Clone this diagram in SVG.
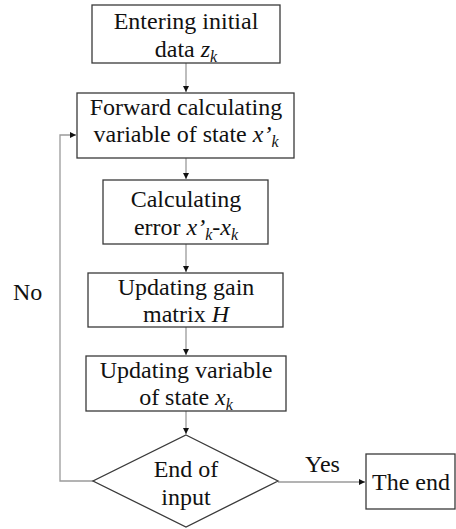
<svg xmlns="http://www.w3.org/2000/svg" width="456" height="529" viewBox="0 0 456 529">
<style>
.box{fill:#fff;stroke:#3a3a3a;stroke-width:1.3}
.c{fill:none;stroke:#9a9a9a;stroke-width:1.3}
</style>
<defs>
<marker id="ah" markerWidth="8" markerHeight="8" refX="6" refY="3" orient="auto" markerUnits="userSpaceOnUse">
<path d="M0,0 L6,3 L0,6 Z" fill="#111"/>
</marker>
</defs>
<g id="connectors">
<path class="c" d="M186,63 V92" marker-end="url(#ah)"/>
<path class="c" d="M186,158 V179" marker-end="url(#ah)"/>
<path class="c" d="M186,244 V272" marker-end="url(#ah)"/>
<path class="c" d="M186,327 V355" marker-end="url(#ah)"/>
<path class="c" d="M186,411 V434" marker-end="url(#ah)"/>
<path class="c" d="M278,482 H365" marker-end="url(#ah)"/>
<path class="c" d="M93,481 H60 V135 H76" marker-end="url(#ah)"/>
<text x="305" y="472" style="font-family:'Liberation Serif','Times New Roman',serif !important;font-size:24px;fill:#111">Yes</text>
<text x="13" y="300" style="font-family:'Liberation Serif','Times New Roman',serif !important;font-size:24px;fill:#111">No</text>
</g>
<g id="n1">
<rect class="box" x="92" y="5" width="188" height="58"/>
<text x="186" y="29" text-anchor="middle" style="font-family:'Liberation Serif','Times New Roman',serif !important;font-size:24px;fill:#111">Entering initial</text>
<text x="186" y="57" text-anchor="middle" style="font-family:'Liberation Serif','Times New Roman',serif !important;font-size:24px;fill:#111">data <tspan font-style="italic">z</tspan><tspan font-style="italic" font-size="16" dy="5">k</tspan></text>
</g>
<g id="n2">
<rect class="box" x="77" y="93" width="217" height="65"/>
<text x="186" y="115" text-anchor="middle" style="font-family:'Liberation Serif','Times New Roman',serif !important;font-size:24px;fill:#111">Forward calculating</text>
<text x="186" y="142" text-anchor="middle" style="font-family:'Liberation Serif','Times New Roman',serif !important;font-size:24px;fill:#111">variable of state <tspan font-style="italic">x&#x2019;</tspan><tspan font-style="italic" font-size="16" dy="5">k</tspan></text>
</g>
<g id="n3">
<rect class="box" x="103" y="180" width="165" height="64"/>
<text x="186" y="207" text-anchor="middle" style="font-family:'Liberation Serif','Times New Roman',serif !important;font-size:24px;fill:#111">Calculating</text>
<text x="186" y="235" text-anchor="middle" style="font-family:'Liberation Serif','Times New Roman',serif !important;font-size:24px;fill:#111">error <tspan font-style="italic">x&#x2019;</tspan><tspan font-style="italic" font-size="16" dy="5">k</tspan><tspan font-style="italic" dy="-5">-x</tspan><tspan font-style="italic" font-size="16" dy="5">k</tspan></text>
</g>
<g id="n4">
<rect class="box" x="88" y="273" width="195" height="54"/>
<text x="186" y="295" text-anchor="middle" style="font-family:'Liberation Serif','Times New Roman',serif !important;font-size:24px;fill:#111">Updating gain</text>
<text x="186" y="322" text-anchor="middle" style="font-family:'Liberation Serif','Times New Roman',serif !important;font-size:24px;fill:#111">matrix <tspan font-style="italic">H</tspan></text>
</g>
<g id="n5">
<rect class="box" x="86" y="356" width="200" height="55"/>
<text x="186" y="378" text-anchor="middle" style="font-family:'Liberation Serif','Times New Roman',serif !important;font-size:24px;fill:#111">Updating variable</text>
<text x="186" y="405" text-anchor="middle" style="font-family:'Liberation Serif','Times New Roman',serif !important;font-size:24px;fill:#111">of state <tspan font-style="italic">x</tspan><tspan font-style="italic" font-size="16" dy="5">k</tspan></text>
</g>
<g id="n6">
<path class="box" d="M186,435 L278,481 L186,527 L93,481 Z"/>
<text x="186" y="477" text-anchor="middle" style="font-family:'Liberation Serif','Times New Roman',serif !important;font-size:24px;fill:#111">End of</text>
<text x="186" y="505" text-anchor="middle" style="font-family:'Liberation Serif','Times New Roman',serif !important;font-size:24px;fill:#111">input</text>
</g>
<g id="n7">
<rect class="box" x="366" y="454" width="89" height="55"/>
<text x="411" y="490" text-anchor="middle" style="font-family:'Liberation Serif','Times New Roman',serif !important;font-size:24px;fill:#111">The end</text>
</g>
</svg>
